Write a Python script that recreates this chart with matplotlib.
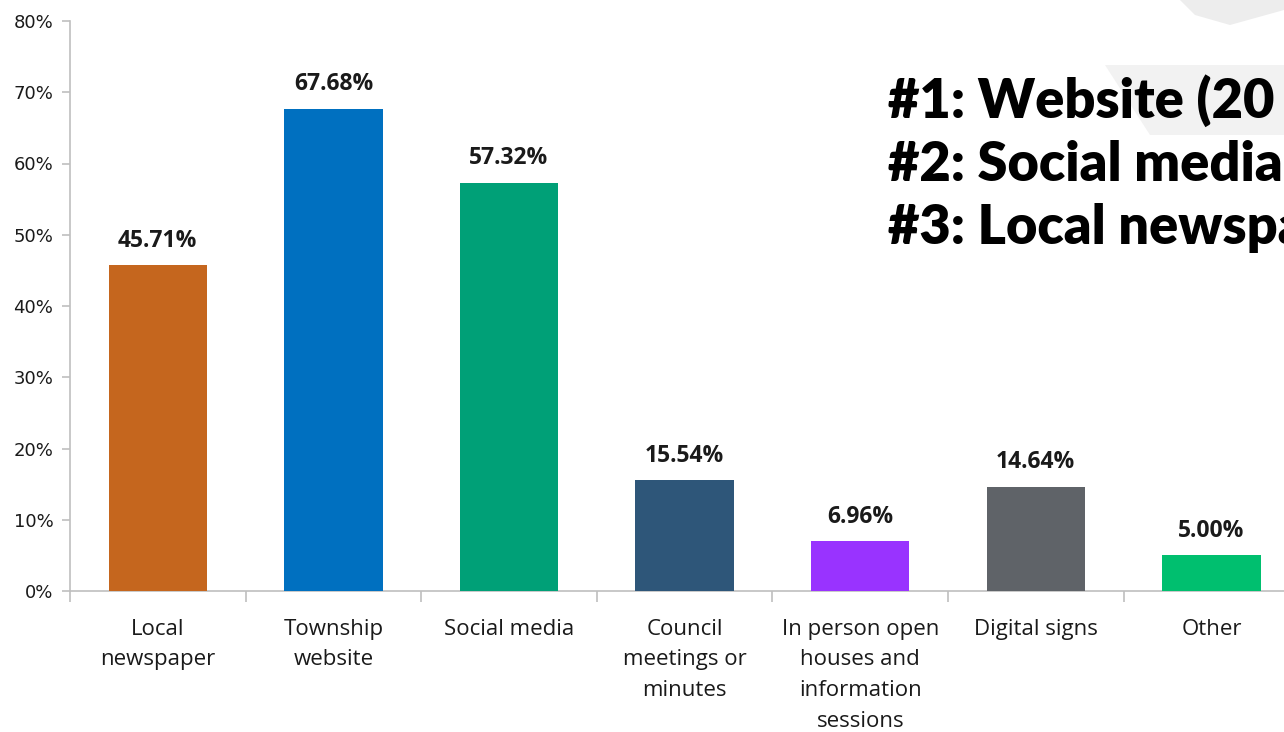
import matplotlib
matplotlib.use("Agg")
import matplotlib.pyplot as plt
from matplotlib.ticker import FixedLocator, FuncFormatter
from matplotlib.patches import Polygon

categories = ["Local\nnewspaper", "Township\nwebsite", "Social media",
              "Council\nmeetings or\nminutes", "In person open\nhouses and\ninformation\nsessions",
              "Digital signs", "Other"]
values = [45.71, 67.68, 57.32, 15.54, 6.96, 14.64, 5.00]
colors = ["#C5661E", "#0070C0", "#00A077", "#2E5679", "#9933FF", "#5F6368", "#00BF6F"]
yticks = [0, 10, 20, 30, 40, 50, 60, 70, 80]
headline = ["#1: Website (20", "#2: Social media", "#3: Local newspaper"]

W, H = 1284, 732
fig = plt.figure(figsize=(W/100, H/100), dpi=100)

# faint background watermark shapes
bg = fig.add_axes([0, 0, 1, 1], zorder=-5)
bg.set_xlim(0, W); bg.set_ylim(H, 0); bg.axis("off")
bg.add_patch(Polygon([[1105, 65], [1284, 65], [1284, 135], [1150, 135]], closed=True, color="#F2F2F2", lw=0))
bg.add_patch(Polygon([[1180, 0], [1284, 0], [1284, 10], [1230, 25], [1195, 15]], closed=True, color="#EDEDED", lw=0))

step = 175.6
ax = fig.add_axes([70/W, (H-591)/H, 7*step/W, 570/H])
ax.patch.set_alpha(0)
x = list(range(len(values)))
bars = ax.bar(x, values, width=0.56, color=colors, zorder=3)
ax.set_xlim(-0.5, len(values)-0.5)
ax.set_ylim(0, 80)

gray = "#BFBFBF"
for s in ["top", "right"]:
    ax.spines[s].set_visible(False)
for s in ["left", "bottom"]:
    ax.spines[s].set_color(gray)
    ax.spines[s].set_linewidth(1.2)

ax.yaxis.set_major_locator(FixedLocator(yticks))
ax.yaxis.set_major_formatter(FuncFormatter(lambda v, p: f"{v:.0f}%"))
ax.tick_params(axis="y", length=6, color=gray, width=1.2, labelsize=13, pad=6, labelcolor="#1a1a1a")

bounds = [i - 0.5 for i in range(len(values)+1)]
ax.xaxis.set_major_locator(FixedLocator(bounds))
ax.xaxis.set_major_formatter(FuncFormatter(lambda v, p: ""))
ax.xaxis.set_minor_locator(FixedLocator(x))
ax.set_xticklabels(categories, minor=True)
ax.tick_params(axis="x", which="major", length=8, color=gray, width=1.2)
ax.tick_params(axis="x", which="minor", length=0, labelsize=16, pad=20, labelcolor="#1a1a1a")
for lab in ax.get_xticklabels(minor=True):
    lab.set_linespacing(1.6)
    lab.set_fontfamily("Open Sans")

for b, v in zip(bars, values):
    ax.annotate(f"{v:.2f}%", (b.get_x()+b.get_width()/2, v), xytext=(0, 9),
                textcoords="offset points", ha="center", va="bottom",
                fontsize=16.5, fontweight="bold", color="#1a1a1a", family="Open Sans")

for i, t in enumerate(headline):
    fig.text(888/W, 1 - (118 + i*63)/H, t, fontsize=39, fontweight="heavy",
             family="Lato", color="black", ha="left", va="baseline")

fig.savefig("out.png", dpi=100)
